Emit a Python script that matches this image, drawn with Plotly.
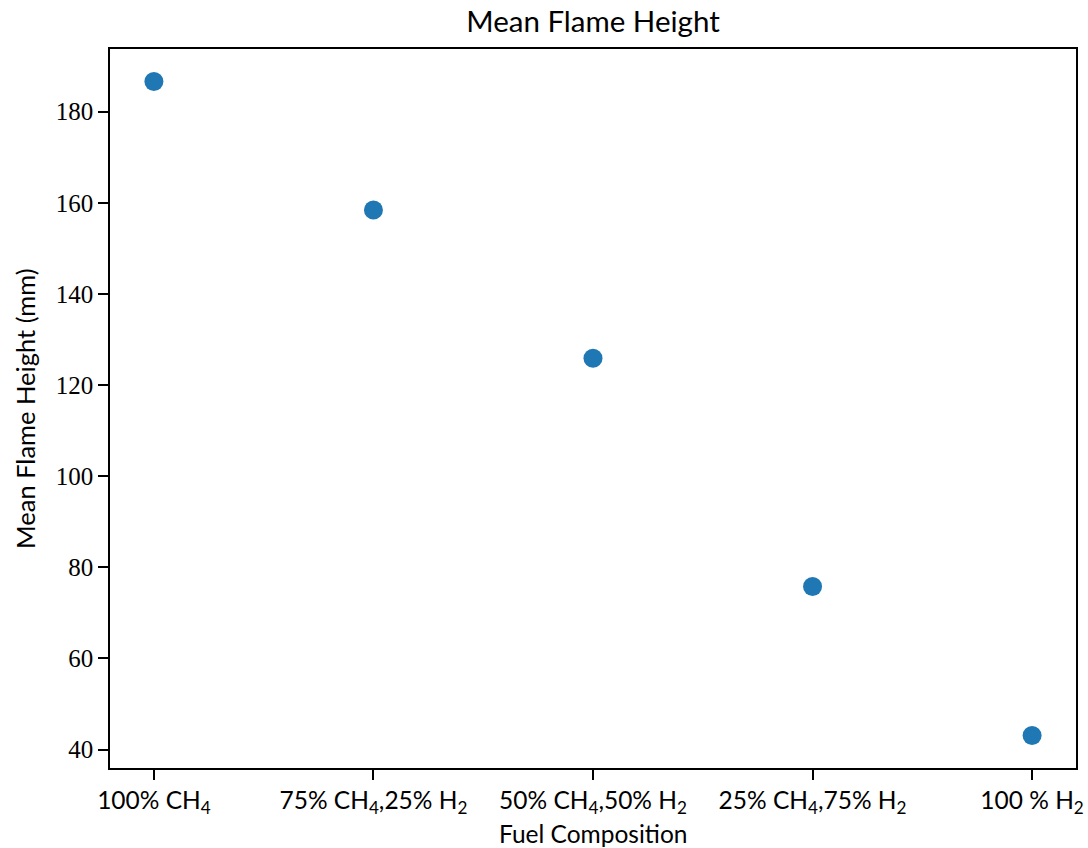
import plotly.graph_objects as go

categories = ["100% CH<sub>4</sub>", "75% CH<sub>4</sub>,25% H<sub>2</sub>",
              "50% CH<sub>4</sub>,50% H<sub>2</sub>", "25% CH<sub>4</sub>,75% H<sub>2</sub>",
              "100 % H<sub>2</sub>"]
positions = [0, 1, 2, 3, 4]
heights = [186.6, 158.4, 125.9, 75.8, 43.1]
y_ticks = [40, 60, 80, 100, 120, 140, 160, 180]

sans = "Lato, 'Open Sans', sans-serif"
serif = "'Liberation Serif', 'DejaVu Serif', serif"

W, H = 1088, 848
ML, MR, MT, MB = 110, 12, 49, 80
PW, PH = W - ML - MR, H - MT - MB

fig = go.Figure()
fig.add_trace(go.Scatter(
    x=positions, y=heights, mode="markers",
    marker=dict(color="#1f77b4", size=19, line=dict(width=0)),
    showlegend=False,
))

fig.update_layout(
    width=W, height=H,
    margin=dict(l=ML, r=MR, t=MT, b=MB),
    paper_bgcolor="white", plot_bgcolor="white",
    title=dict(text="Mean Flame Height", xref="paper", x=0.5, xanchor="center",
               yref="container", y=1 - 22 / H, yanchor="middle",
               font=dict(family=sans, size=29.5, color="black")),
    xaxis=dict(
        range=[-0.2, 4.2], tickmode="array", tickvals=positions, ticktext=categories,
        automargin=False,
        showgrid=False, zeroline=False, showline=True, linecolor="black", linewidth=1.5,
        mirror=True, ticks="outside", ticklen=10, tickwidth=1.5, tickcolor="black",
        tickfont=dict(family=sans, size=24.5, color="black"),
    ),
    yaxis=dict(
        range=[35.96, 193.75], tickmode="array", tickvals=y_ticks,
        ticktext=[str(v) for v in y_ticks],
        automargin=False,
        showgrid=False, zeroline=False, showline=True, linecolor="black", linewidth=1.5,
        mirror=True, ticks="outside", ticklen=10, tickwidth=1.5, tickcolor="black",
        tickfont=dict(family=serif, size=25, color="black"),
    ),
    annotations=[
        dict(text="Fuel Composition", xref="paper", yref="paper",
             x=(593 - ML) / PW, y=-(833 - (H - MB)) / PH,
             xanchor="center", yanchor="middle", showarrow=False,
             font=dict(family=sans, size=24.5, color="black")),
        dict(text="Mean Flame Height (mm)", xref="paper", yref="paper",
             x=-(ML - 25) / PW, y=((H - MB) - 409) / PH, textangle=-90,
             xanchor="center", yanchor="middle", showarrow=False,
             font=dict(family=sans, size=25.5, color="black")),
    ],
)

fig.write_html("out.html")
